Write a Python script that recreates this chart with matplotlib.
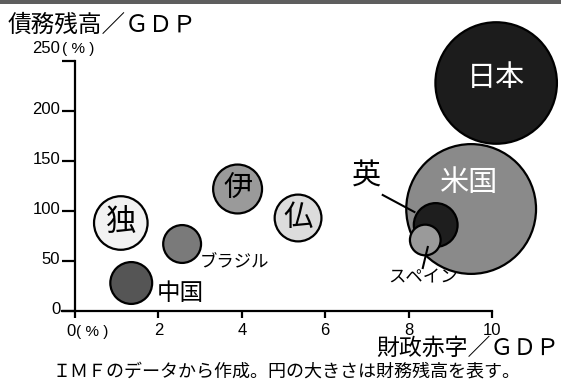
import numpy as np
import matplotlib.pyplot as plt
from matplotlib.patches import Rectangle

# bubble chart: fiscal deficit vs. debt (IMF), circle area ~ debt amount
countries = ["日本", "米国", "英", "スペイン", "独", "ブラジル", "伊", "仏", "中国"]
deficit = [10.1, 9.5, 8.65, 8.4, 1.1, 2.57, 3.9, 5.35, 1.35]    # % of GDP
debt_ratio = [228, 102, 86, 71, 88, 67, 122, 93, 28]            # % of GDP
debt_amount = [12.3, 14.0, 1.7, 0.87, 2.5, 1.29, 2.1, 1.93, 1.56]
fills = ["#1c1c1c", "#8a8a8a", "#1e1e1e", "#9a9a9a", "#f2f2f2",
         "#7a7a7a", "#9a9a9a", "#dcdcdc", "#555555"]

yticks = [0, 50, 100, 150, 200, 250]
xticks = [2, 4, 6, 8, 10]

W, H, DPI = 561, 389, 100
JP = ["Noto Sans CJK JP", "DejaVu Sans"]
NUM = ["Liberation Sans", "DejaVu Sans"]

fig = plt.figure(figsize=(W / DPI, H / DPI), dpi=DPI)
fig.patch.set_facecolor("white")
ax = fig.add_axes([62 / W, (H - 311) / H, 430 / W, 250 / H])
ax.set_xlim(-0.31, 10)
ax.set_ylim(0, 250)
ax.set_facecolor("none")

for s in ["top", "right"]:
    ax.spines[s].set_visible(False)
ax.spines["left"].set_position(("data", 0))
ax.spines["left"].set_linewidth(1.6)
ax.spines["bottom"].set_linewidth(1.6)
ax.spines["left"].set_zorder(0)
ax.spines["bottom"].set_zorder(0)

ax.set_yticks(yticks)
ax.set_xticks([0] + xticks)
ax.tick_params(axis="y", length=9.5, width=1.6, labelleft=False)
ax.tick_params(axis="x", length=5, width=1.6, labelbottom=False)

# tick labels sit on the tick lines, like the original
for v in yticks[:-1]:
    ax.annotate(str(v), xy=(0, v), xytext=(-10.5, -2), textcoords="offset points",
                ha="right", va="baseline", fontsize=12, family=NUM)
ax.annotate("250", xy=(0, 250), xytext=(-10.5, 6), textcoords="offset points",
            ha="right", va="baseline", fontsize=12, family=NUM)
ax.annotate("( % )", xy=(0, 250), xytext=(-9.5, 6), textcoords="offset points",
            ha="left", va="baseline", fontsize=11, family=NUM)
for v in xticks:
    ax.annotate(str(v), xy=(v, 0), xytext=(0, -17), textcoords="offset points",
                ha="center", va="baseline", fontsize=12, family=NUM)
ax.annotate("0", xy=(0, 0), xytext=(-3, -18), textcoords="offset points",
            ha="center", va="baseline", fontsize=12, family=NUM)
ax.annotate("( % )", xy=(0, 0), xytext=(1, -18), textcoords="offset points",
            ha="left", va="baseline", fontsize=11, family=NUM)

# circles, radius from sqrt of debt amount
k = 66 / np.sqrt(max(debt_amount))   # px per sqrt(unit)
sizes = [(2 * k * np.sqrt(a) * 72 / DPI - 1.6) ** 2 for a in debt_amount]
ax.scatter(deficit, debt_ratio, s=sizes, c=fills, edgecolors="black",
           linewidths=1.6, clip_on=False, zorder=3)

# labels
def lab(x, y, txt, size, color="black", ha="center"):
    ax.text(x, y, txt, fontsize=size, color=color, ha=ha, va="center",
            family=JP, zorder=5)

lab(10.1, 233, "日本", 21, color="white")
lab(9.44, 128, "米国", 21, color="white")
lab(1.1, 88, "独", 22)
lab(3.9, 122, "伊", 21)
lab(5.35, 93, "仏", 21)
lab(6.99, 134, "英", 21)
lab(2.99, 49, "ブラジル", 12.5, ha="left")
lab(1.96, 18, "中国", 17, ha="left")
lab(8.34, 34, "スペイン", 12.5)

ax.plot([7.38, 8.14], [116, 99], color="black", lw=1.5, zorder=4)
ax.plot([8.46, 8.34], [64, 43], color="black", lw=1.5, zorder=4)

fig.text(8 / W, 1 - 31.5 / H, "債務残高／ＧＤＰ", fontsize=17, family=JP,
         ha="left", va="baseline")
fig.text(559 / W, 1 - 355 / H, "財政赤字／ＧＤＰ", fontsize=16.5, family=JP,
         ha="right", va="baseline")
fig.text(53 / W, 1 - 376 / H, "ＩＭＦのデータから作成。円の大きさは財務残高を表す。",
         fontsize=13, family=JP, ha="left", va="baseline")

fig.patches.append(Rectangle((0, 1 - 3.5 / H), 1, 3.5 / H, transform=fig.transFigure,
                             facecolor="#5e5e5e", edgecolor="none"))

fig.savefig("out.png", dpi=DPI)
